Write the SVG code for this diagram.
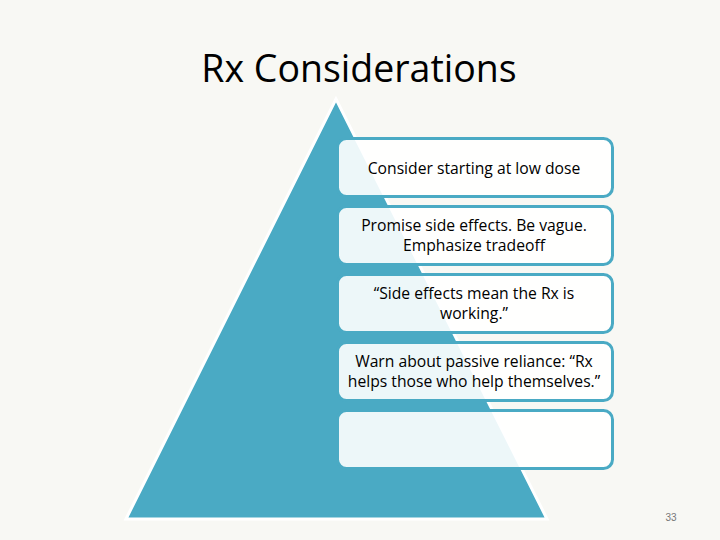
<svg xmlns="http://www.w3.org/2000/svg" width="720" height="540" viewBox="0 0 720 540">
<style>
.box{fill:#ffffff;fill-opacity:0.9;stroke:#4aaac4;stroke-width:3}
.t{font-family:"Open Sans","Liberation Sans",sans-serif;font-size:15.7px;fill:#000;text-anchor:middle}
</style>
<rect width="720" height="540" fill="#f8f8f4"/>
<text x="359" y="82" font-family="Open Sans, Liberation Sans, sans-serif" font-size="37.5" text-anchor="middle" fill="#000">Rx Considerations</text>
<g id="pyramid"><polygon points="336,99 126,519 547,519" fill="#4aaac4" stroke="#ffffff" stroke-width="3" stroke-linejoin="miter"/></g>
<g id="connectors"></g>
<g id="n1"><rect class="box" x="337.5" y="138.5" width="275" height="58" rx="9"/><text class="t" x="474" y="174">Consider starting at low dose</text></g>
<g id="n2"><rect class="box" x="337.5" y="206.5" width="275" height="58" rx="9"/><text class="t" x="474" y="231">Promise side effects. Be vague.</text><text class="t" x="474" y="251">Emphasize tradeoff</text></g>
<g id="n3"><rect class="box" x="337.5" y="274.5" width="275" height="58" rx="9"/><text class="t" x="474" y="299">“Side effects mean the Rx is</text><text class="t" x="474" y="319">working.”</text></g>
<g id="n4"><rect class="box" x="337.5" y="342.5" width="275" height="58" rx="9"/><text class="t" x="474" y="367">Warn about passive reliance: “Rx</text><text class="t" x="474" y="387">helps those who help themselves.”</text></g>
<g id="n5"><rect class="box" x="337.5" y="410.5" width="275" height="58" rx="9"/></g>
<text x="671" y="521" font-family="Liberation Sans, sans-serif" font-size="10" fill="#777" text-anchor="middle">33</text>
</svg>
